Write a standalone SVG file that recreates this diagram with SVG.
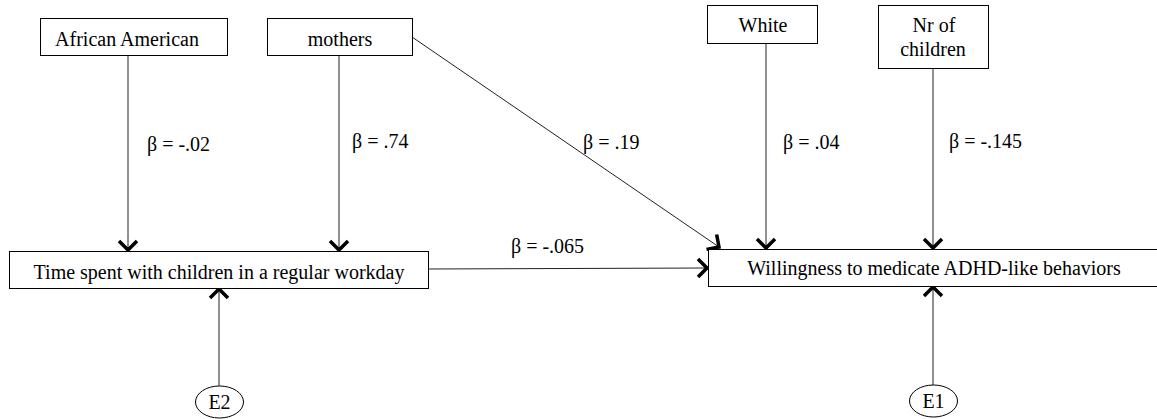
<svg xmlns="http://www.w3.org/2000/svg" width="1157" height="419" viewBox="0 0 1157 419">
<style>
.box{fill:#fff;stroke:#000;stroke-width:1}
text{font-family:"Times New Roman","Liberation Serif","DejaVu Serif",serif;font-size:20px;fill:#000}
.t{text-anchor:middle}
.c{stroke:#222;stroke-width:1;fill:none;marker-end:url(#ah)}
</style>
<defs>
<marker id="ah" markerUnits="userSpaceOnUse" markerWidth="22" markerHeight="22" refX="12" refY="11" orient="auto">
<path d="M3,2 L12,11 L3,20" fill="none" stroke="#000" stroke-width="3.5"/>
</marker>
</defs>
<rect width="1157" height="419" fill="#fff"/>
<g id="connectors">
<line class="c" x1="128" y1="55" x2="128" y2="250"/>
<line class="c" x1="339" y1="55" x2="339" y2="250"/>
<line class="c" x1="412" y1="37" x2="719" y2="247"/>
<line class="c" x1="766" y1="43" x2="766" y2="248"/>
<line class="c" x1="933" y1="68" x2="933" y2="248"/>
<line class="c" x1="428" y1="269" x2="707" y2="268"/>
<line class="c" x1="219" y1="386" x2="219" y2="289"/>
<line class="c" x1="933" y1="385" x2="933" y2="287"/>
</g>
<g id="labels">
<text x="147" y="151">β = -.02</text>
<text x="352" y="148">β = .74</text>
<text x="583" y="149">β = .19</text>
<text x="783" y="149">β = .04</text>
<text x="949" y="148">β = -.145</text>
<text x="511" y="253">β = -.065</text>
</g>
<g id="african-american">
<rect class="box" x="40.5" y="18.5" width="187" height="37"/>
<text class="t" x="127" y="46">African American</text>
</g>
<g id="mothers">
<rect class="box" x="267.5" y="18.5" width="145" height="37"/>
<text class="t" x="340" y="46">mothers</text>
</g>
<g id="white">
<rect class="box" x="707.5" y="5.5" width="110" height="38"/>
<text class="t" x="763" y="32">White</text>
</g>
<g id="nr-of-children">
<rect class="box" x="878.5" y="5.5" width="110" height="63"/>
<text class="t" x="934" y="32">Nr of</text>
<text class="t" x="933" y="56">children</text>
</g>
<g id="time-spent">
<rect class="box" x="9.5" y="251.5" width="419" height="37"/>
<text class="t" x="219" y="279">Time spent with children in a regular workday</text>
</g>
<g id="willingness">
<rect class="box" x="708.5" y="249.5" width="460" height="37"/>
<text class="t" x="934" y="275">Willingness to medicate ADHD-like behaviors</text>
</g>
<g id="e2">
<ellipse class="box" cx="219.5" cy="402" rx="24" ry="16"/>
<text class="t" x="219.5" y="409">E2</text>
</g>
<g id="e1">
<ellipse class="box" cx="933.5" cy="401" rx="24" ry="16"/>
<text class="t" x="933.5" y="408">E1</text>
</g>
</svg>
